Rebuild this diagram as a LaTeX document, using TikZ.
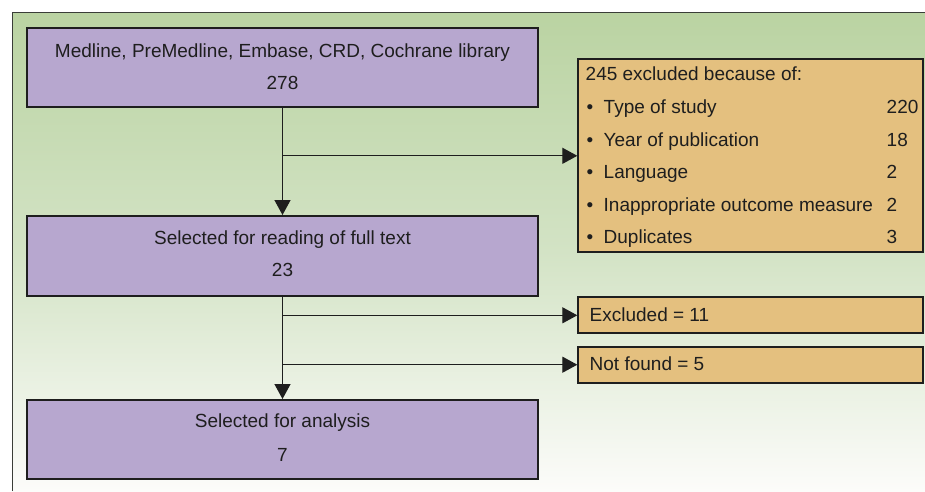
\documentclass[tikz,border=0pt]{standalone}
\usepackage{fontspec}
\setmainfont{Liberation Sans}
\usetikzlibrary{arrows.meta,calc}
\definecolor{pur}{HTML}{B7A7CF}
\definecolor{org}{HTML}{E4C07F}
\definecolor{gtop}{HTML}{BAD3A2}
\definecolor{gmid}{HTML}{D3E3C5}
\definecolor{gbot}{HTML}{FCFCFA}
\definecolor{ink}{HTML}{1E1E1E}
\definecolor{frame}{HTML}{3A3D38}
\begin{document}
\begin{tikzpicture}[x=1pt,y=-1pt,
  pbox/.style={draw=ink, line width=2pt, fill=pur, inner sep=0pt},
  obox/.style={draw=ink, line width=2pt, fill=org, inner sep=0pt},
  txt/.style={font=\fontsize{19}{23}\selectfont, text=ink, inner sep=0pt},
  conn/.style={draw=ink, line width=1.3pt},
  arr/.style={conn, -{Triangle[length=15pt,width=16pt]}}]
\useasboundingbox (0,0) rectangle (925,491);
% background
\shade[top color=gtop, bottom color=gbot, middle color=gmid] (12,12) rectangle (925,491);
\draw[frame, line width=1pt] (12,491) -- (12,12) -- (925,12);

% main boxes
\node[pbox, minimum width=511pt, minimum height=79pt] (b1) at (282.5,67.5) {};
\node[pbox, minimum width=511pt, minimum height=80pt] (b2) at (282.5,256) {};
\node[pbox, minimum width=511pt, minimum height=79pt] (b3) at (282.5,439.5) {};

\node[txt, anchor=base] (t1a) at ($(b1.north)+(0,30.5)$) {Medline, PreMedline, Embase, CRD, Cochrane library};
\node[txt, anchor=base] (t1b) at ($(b1.north)+(0,62)$) {278};
\node[txt, anchor=base] (t2a) at ($(b2.north)+(0,29.5)$) {Selected for reading of full text};
\node[txt, anchor=base] (t2b) at ($(b2.north)+(0,61.5)$) {23};
\node[txt, anchor=base] (t3a) at ($(b3.north)+(0,28.5)$) {Selected for analysis};
\node[txt, anchor=base] (t3b) at ($(b3.north)+(0,62)$) {7};

% exclusion boxes
\node[obox, minimum width=345pt, minimum height=193pt] (e1) at (750.8,155.8) {};
\node[obox, minimum width=345pt, minimum height=36pt] (e2) at (750.8,315.3) {};
\node[obox, minimum width=345pt, minimum height=36pt] (e3) at (750.8,364.7) {};

\node[txt, anchor=base west] (h) at (585.5,80.7) {245 excluded because of:};
\foreach \lab/\num/\yy [count=\i] in {Type of study/220/113.5, Year of publication/18/146, Language/2/178.5, Inappropriate outcome measure/2/211, Duplicates/3/243.5}{
  \node[txt, anchor=base] (bu\i) at (590,\yy) {•};
  \node[txt, anchor=base west] (li\i) at (603.5,\yy) {\lab};
  \node[txt, anchor=base west] (nu\i) at (886.5,\yy) {\num};
}
\node[txt, anchor=base west] (x2) at (589.5,321.7) {Excluded = 11};
\node[txt, anchor=base west] (x3) at (589.5,370.7) {Not found = 5};

% connectors
\draw[arr] (b1.south) -- (b2.north);
\draw[arr] (b2.south) -- (b3.north);
\draw[arr] (b1.south |- e1.west) -- (e1.west);
\draw[arr] (b2.south |- e2.west) -- (e2.west);
\draw[arr] (b2.south |- e3.west) -- (e3.west);
\end{tikzpicture}
\end{document}
